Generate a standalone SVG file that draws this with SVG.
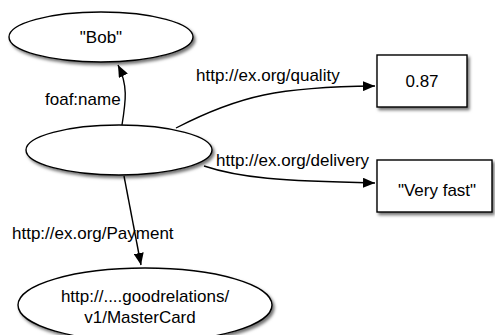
<svg xmlns="http://www.w3.org/2000/svg" width="495" height="335" viewBox="0 0 495 335">
<style>
.node{fill:#fff;stroke:#000;stroke-width:1.4;filter:url(#sh)}
.t{font-family:"Liberation Sans",Arial,sans-serif;font-size:17px;fill:#000}
.c{text-anchor:middle}
.e{fill:none;stroke:#000;stroke-width:1.4;marker-end:url(#ah)}
</style>
<defs>
<filter id="sh" x="-10%" y="-20%" width="130%" height="150%">
<feDropShadow dx="2" dy="2.5" stdDeviation="1.5" flood-color="#000" flood-opacity="0.55"/>
</filter>
<marker id="ah" viewBox="0 0 12 10" refX="12" refY="5" markerWidth="12" markerHeight="10" markerUnits="userSpaceOnUse" orient="auto">
<path d="M0,0 L12,5 L0,10 z" fill="#000"/>
</marker>
</defs>
<g id="connectors">
<path class="e" d="M122,125 C126,100 128,85 118,65"/>
<path class="e" d="M176,128 C240,95 280,87 375,86"/>
<path class="e" d="M204,166 C240,178 280,181 375,183"/>
<path class="e" d="M124,176 L141,265"/>
<text class="t" x="45" y="105">foaf:name</text>
<text class="t" x="196" y="81">http://ex.org/quality</text>
<text class="t" x="216" y="166">http://ex.org/delivery</text>
<text class="t" x="12" y="239">http://ex.org/Payment</text>
</g>
<g id="bob">
<ellipse class="node" cx="101" cy="37" rx="92" ry="25"/>
<text class="t c" x="101" y="43">"Bob"</text>
</g>
<g id="subject">
<ellipse class="node" cx="119" cy="150" rx="93" ry="25"/>
</g>
<g id="quality">
<rect class="node" x="377" y="55" width="90" height="52"/>
<text class="t c" x="422" y="87">0.87</text>
</g>
<g id="delivery">
<rect class="node" x="377" y="160" width="115" height="52"/>
<text class="t c" x="437" y="196">"Very fast"</text>
</g>
<g id="mastercard">
<ellipse class="node" cx="145" cy="305" rx="127" ry="37"/>
<text class="t c" x="145" y="302">http://....goodrelations/</text>
<text class="t c" x="140" y="323">v1/MasterCard</text>
</g>
</svg>
